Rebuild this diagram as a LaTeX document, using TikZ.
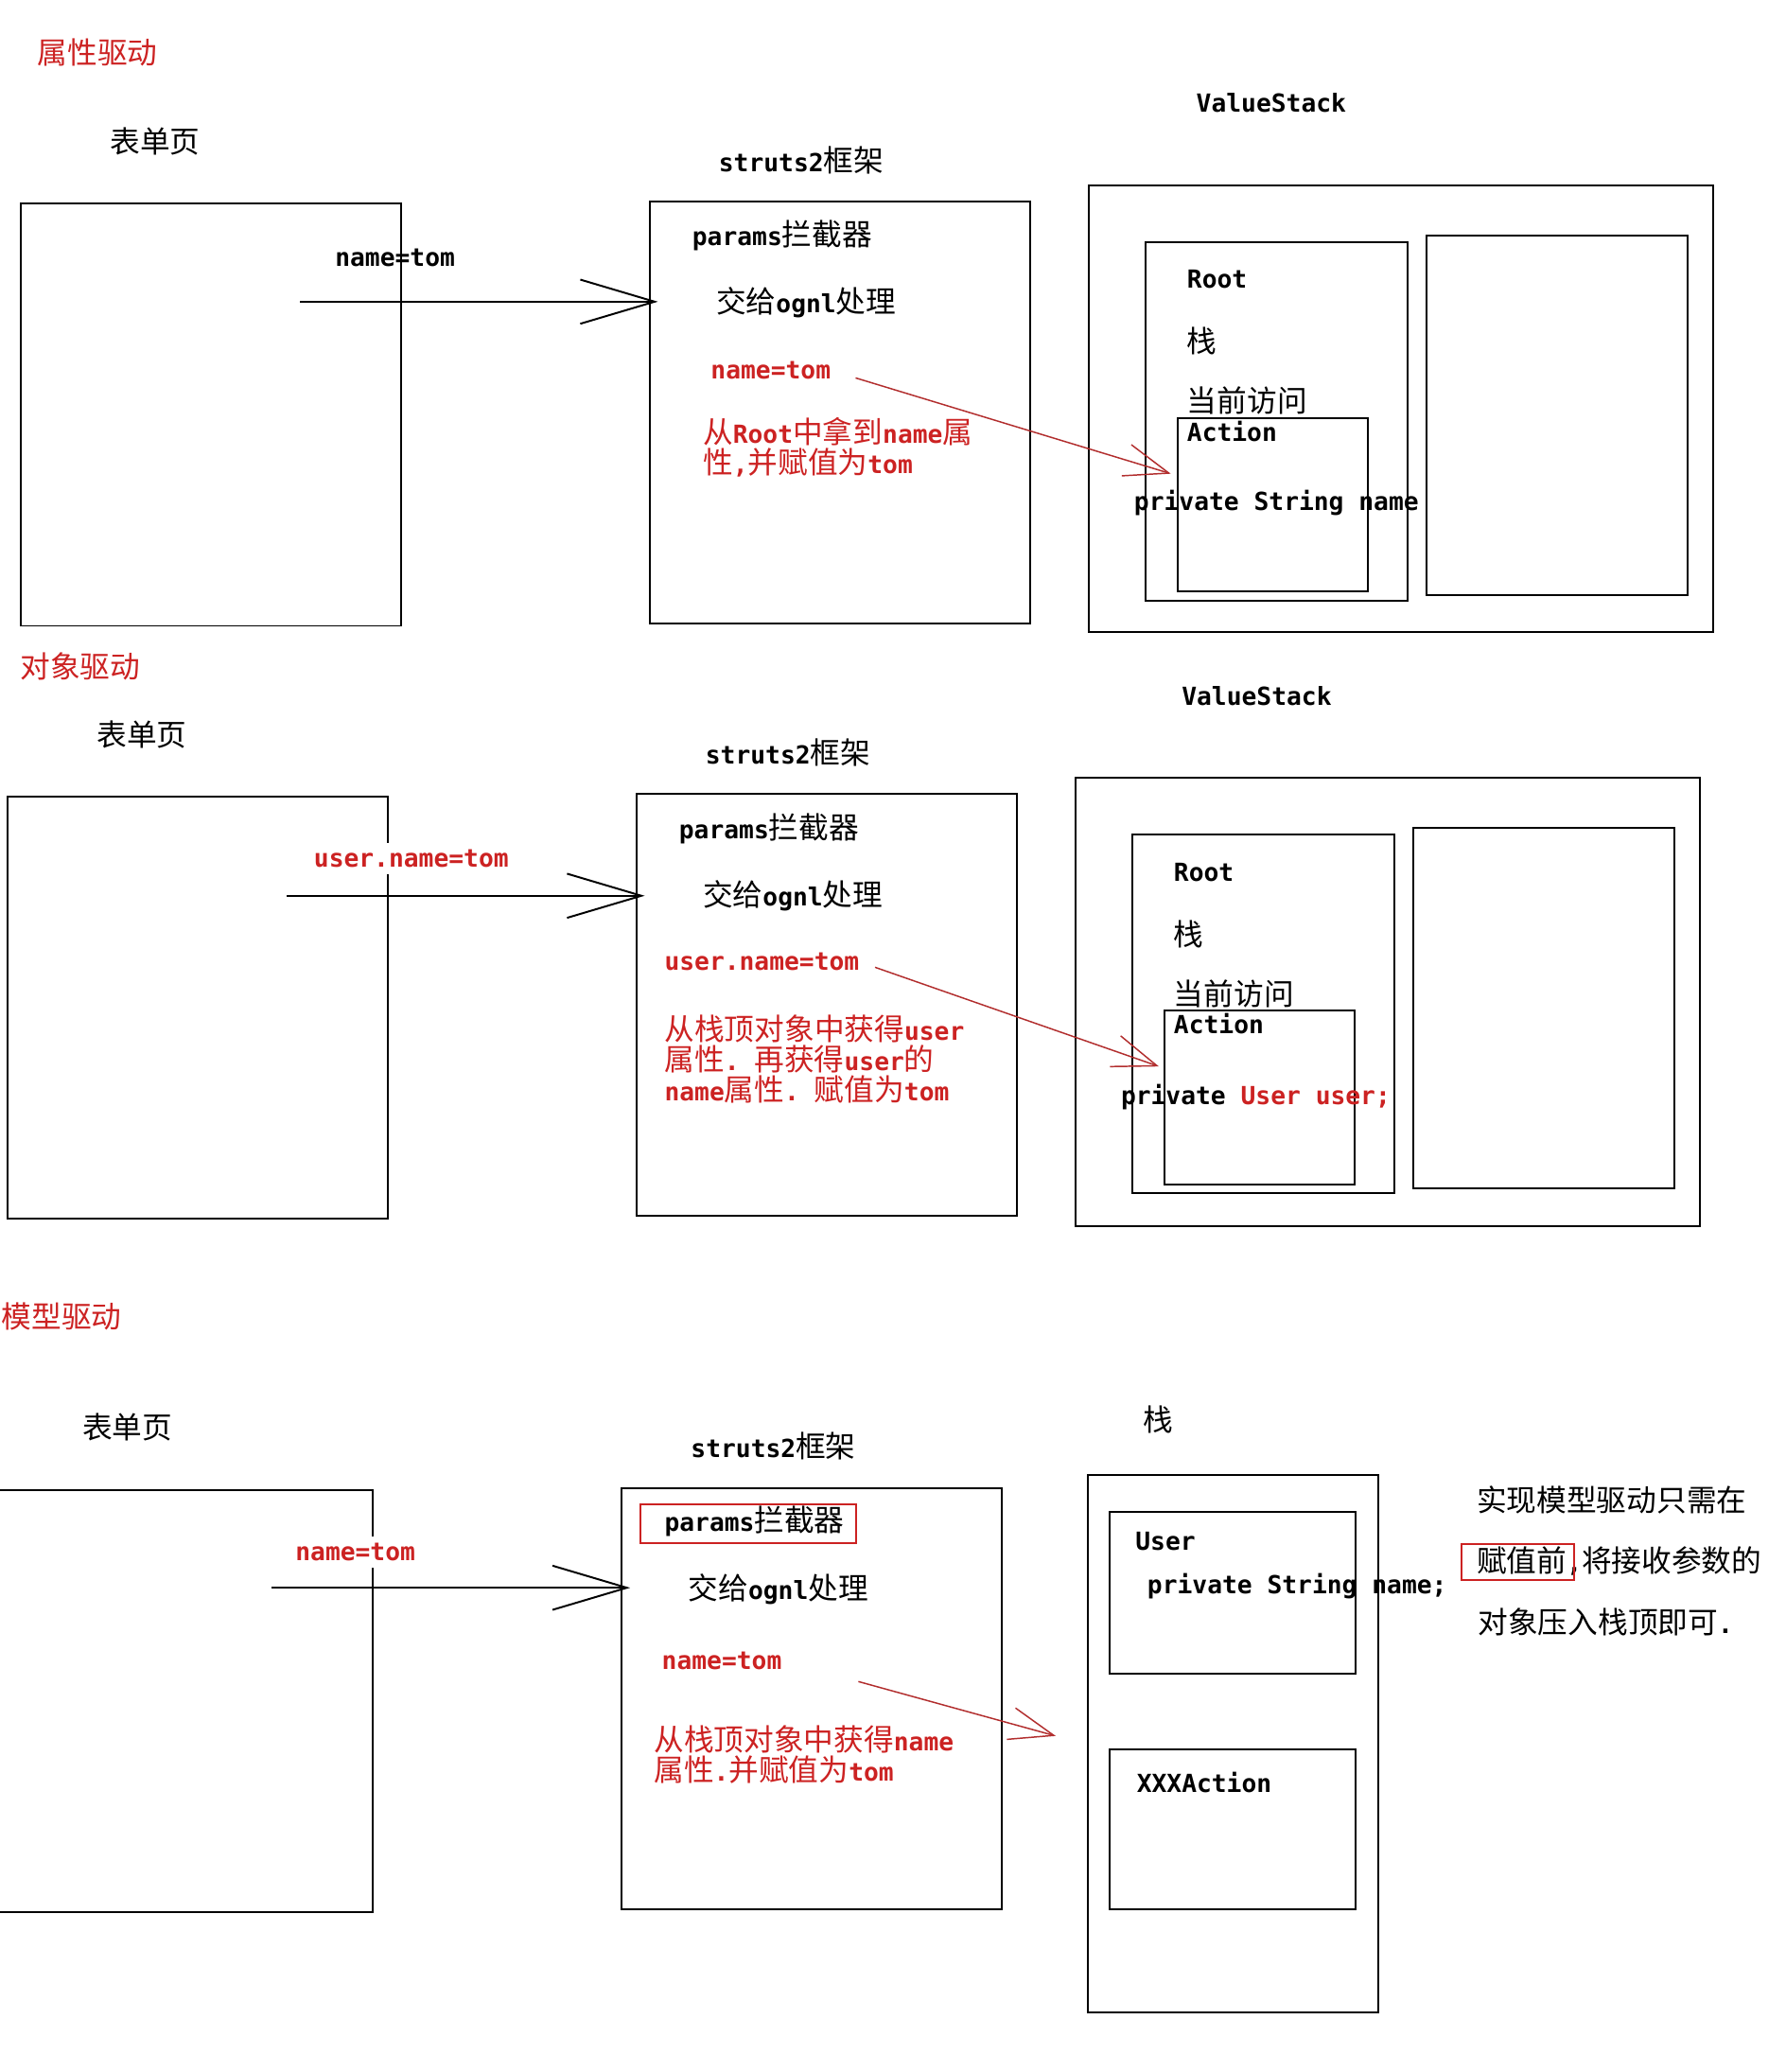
\documentclass[tikz,border=0pt]{standalone}
\usepackage{fontspec}
\setmonofont{DejaVu Sans Mono}
\newfontfamily\cjk{Noto Sans CJK SC}
\usetikzlibrary{arrows.meta,fit}

\definecolor{labelred}{RGB}{204,34,34}
\definecolor{arrowred}{RGB}{178,46,46}
\newcommand{\zh}[1]{{\cjk\mdseries\fontsize{12.9}{13}\selectfont #1}}

\begin{document}
\begin{tikzpicture}[x=0.02cm, y=-0.02cm,
    box/.style={draw, line width=0.8pt, inner sep=0pt},
    txt/.style={anchor=west, inner sep=0pt, font=\fontsize{10.7}{13}\selectfont\ttfamily\bfseries},
    redtxt/.style={txt, text=labelred},
    note/.style={redtxt, anchor=north west, align=left},
    feed/.style={line width=0.8pt, shorten >=-4pt, -{Straight Barb[length=32pt, width=19pt]}},
    assign/.style={arrowred, line width=0.6pt, -{Straight Barb[length=19pt, width=14pt]}}]
    \useasboundingbox (0,0) rectangle (1350,1566);

    % attribute driven
    \node[redtxt] (mode1) at (28,40) {\zh{属性驱动}};
    \node[txt] (form1lbl) at (83,107) {\zh{表单页}};
    \node[box, fit={(16,154) (303,473)}] (form1) {};
    \node[txt] (param1) at (253,195) {name=tom};

    \node[txt] (fw1lbl) at (543,121) {struts2\zh{框架}};
    \node[box, fit={(491,152) (779,471)}] (struts1) {};
    \node[txt] (icpt1) at (523,178) {params\zh{拦截器}};
    \node[txt] (ognl1) at (541,229) {\zh{交给}ognl\zh{处理}};
    \node[redtxt] (val1) at (537,280) {name=tom};
    \node[note] (note1) at (531,315) {\zh{从}Root\zh{中拿到}name\zh{属}\\\zh{性},\zh{并赋值为}tom};

    \node[txt] (vs1lbl) at (904,78) {ValueStack};
    \node[box, fit={(823,140) (1295,478)}] (vs1) {};
    \node[box, fit={(866,183) (1064,454)}] (root1) {};
    \node[box, fit={(1078,178) (1276,450)}] (ctx1) {};
    \node[txt] (rootlbl1) at (897,211) {Root};
    \node[txt] (stack1) at (897,258) {\zh{栈}};
    \node[txt] (top1) at (897,303) {\zh{当前访问}};
    \node[box, fit={(890,316) (1034,447)}] (action1) {};
    \node[txt] (actlbl1) at (897,326) {Action};
    \node[txt] (field1) at (857,380) {private String name};

    \coordinate (in1) at (227,228);
    \coordinate (tip1) at (885,358);
    \draw[feed] (in1) -- (in1 -| struts1.west);
    \draw[assign, shorten <=11pt] (val1.east) -- (tip1);

    % object driven
    \node[redtxt] (mode2) at (15,504) {\zh{对象驱动}};
    \node[txt] (form2lbl) at (73,555) {\zh{表单页}};
    \node[box, fit={(6,602) (293,921)}] (form2) {};
    \node[redtxt, fill=white, inner ysep=3pt] (param2) at (237,649) {user.name=tom};

    \node[txt] (fw2lbl) at (533,569) {struts2\zh{框架}};
    \node[box, fit={(481,600) (769,919)}] (struts2) {};
    \node[txt] (icpt2) at (513,626) {params\zh{拦截器}};
    \node[txt] (ognl2) at (531,677) {\zh{交给}ognl\zh{处理}};
    \node[redtxt] (val2) at (502,727) {user.name=tom};
    \node[note] (note2) at (502,767) {\zh{从栈顶对象中获得}user\\\zh{属性}. \zh{再获得}user\zh{的}\\name\zh{属性}. \zh{赋值为}tom};

    \node[txt] (vs2lbl) at (893,526) {ValueStack};
    \node[box, fit={(813,588) (1285,927)}] (vs2) {};
    \node[box, fit={(856,631) (1054,902)}] (root2) {};
    \node[box, fit={(1068,626) (1266,898)}] (ctx2) {};
    \node[txt] (rootlbl2) at (887,659) {Root};
    \node[txt] (stack2) at (887,706) {\zh{栈}};
    \node[txt] (top2) at (887,751) {\zh{当前访问}};
    \node[box, fit={(880,764) (1024,895)}] (action2) {};
    \node[txt] (actlbl2) at (887,774) {Action};
    \node[txt] (field2) at (847,829) {private \textcolor{labelred}{User user;}};

    \coordinate (in2) at (217,677);
    \coordinate (tip2) at (876,806);
    \draw[feed] (in2) -- (in2 -| struts2.west);
    \draw[assign, shorten <=7pt] (val2.east) -- (tip2);

    % model driven
    \node[redtxt] (mode3) at (1,995) {\zh{模型驱动}};
    \node[txt] (form3lbl) at (62,1079) {\zh{表单页}};
    \node[box, fit={(-10,1126) (282,1445)}] (form3) {};
    \node[redtxt, fill=white, inner ysep=3pt] (param3) at (223,1173) {name=tom};

    \node[txt] (fw3lbl) at (522,1093) {struts2\zh{框架}};
    \node[box, fit={(470,1125) (757,1443)}] (struts3) {};
    \node[txt] (icpt3) at (502,1150) {params\zh{拦截器}};
    \draw[labelred, line width=0.8pt] (484,1137) rectangle (647,1166);
    \node[txt] (ognl3) at (520,1201) {\zh{交给}ognl\zh{处理}};
    \node[redtxt] (val3) at (500,1255) {name=tom};
    \node[note] (note3) at (494,1304) {\zh{从栈顶对象中获得}name\\\zh{属性}.\zh{并赋值为}tom};

    \node[txt] (stack3lbl) at (864,1073) {\zh{栈}};
    \node[box, fit={(822,1115) (1042,1521)}] (stack3) {};
    \node[box, fit={(839,1143) (1025,1265)}] (user3) {};
    \node[txt] (userlbl3) at (858,1165) {User};
    \node[txt] (field3) at (867,1199) {private String name;};
    \node[box, fit={(839,1322) (1025,1443)}] (action3) {};
    \node[txt] (actlbl3) at (859,1347) {XXXAction};

    \node[txt] (hint1) at (1116,1134) {\zh{实现模型驱动只需在}};
    \node[txt] (hint2) at (1116,1180) {\zh{赋值前},\zh{将接收参数的}};
    \draw[labelred, line width=0.8pt] (1105,1167) rectangle (1190,1194);
    \node[txt] (hint3) at (1117,1226) {\zh{对象压入栈顶即可}.};

    \coordinate (in3) at (205,1200);
    \coordinate (tip3) at (798,1312);
    \draw[feed] (in3) -- (in3 -| struts3.west);
    \draw[assign, shorten <=34pt] (val3.east) -- (tip3);
\end{tikzpicture}
\end{document}
